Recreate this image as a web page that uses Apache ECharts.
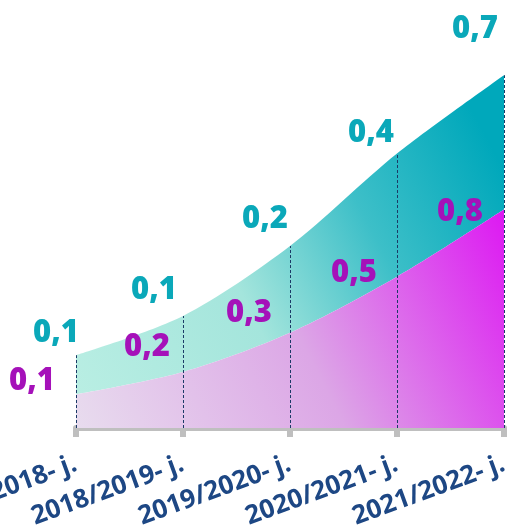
<!DOCTYPE html>
<html>
<head>
<meta charset="utf-8">
<script src="https://cdn.jsdelivr.net/npm/echarts@6/dist/echarts.min.js"></script>
<style>
html,body{margin:0;padding:0;background:#fff;}
#c{width:508px;height:531px;}
</style>
</head>
<body>
<div id="c"></div>
<script>
// Categories (school years)
const categories = ['2017/2018- j.', '2018/2019- j.', '2019/2020- j.', '2020/2021- j.', '2021/2022- j.'];
// Area heights (lower purple band, upper teal band stacked on it)
const purpleValues = [0.12, 0.20, 0.34, 0.54, 0.78];
const tealValues = [0.14, 0.20, 0.31, 0.44, 0.48];
// Values printed on the chart
const purpleShown = [0.1, 0.2, 0.3, 0.5, 0.8];
const tealShown = [0.1, 0.1, 0.2, 0.4, 0.7];

const purpleLabelOffsets = [[-44,-13], [-36,-25], [-41,-20], [-43,-4], [-44,3]];
const tealLabelOffsets = [[-20,-22], [-29,-26], [-25,-27], [-26,-20], [-29,-46]];

const fmt = v => v.toFixed(1).replace('.', ',');
const totals = purpleValues.map((v, i) => v + tealValues[i]);

const chart = echarts.init(document.getElementById('c'), null, {renderer: 'canvas'});
const labelFont = {fontFamily: 'Open Sans', fontWeight: 800, fontSize: 31};

chart.setOption({
  animation: false,
  backgroundColor: '#ffffff',
  grid: {left: 76, right: 4, top: 36, bottom: 103, containLabel: false, outerBoundsMode: 'none'},
  xAxis: {
    type: 'category',
    boundaryGap: false,
    data: categories,
    axisLine: {lineStyle: {color: '#bfbfbf', width: 6}},
    axisTick: {show: true, length: 9, lineStyle: {color: '#bfbfbf', width: 6}},
    axisLabel: {
      rotate: 20, margin: 35, interval: 0, hideOverlap: false,
      color: '#1d4784', fontFamily: 'Open Sans', fontWeight: 'bold', fontSize: 26
    },
    splitLine: {show: false}
  },
  yAxis: {type: 'value', min: 0, max: 1.4, show: false},
  series: [
    {
      name: 'purple', type: 'line', stack: 'total',
      data: purpleValues.map((v, i) => ({value: v, label: {offset: purpleLabelOffsets[i]}})),
      smooth: 0.3,
      symbol: 'circle', symbolSize: 0.1, showSymbol: true,
      itemStyle: {color: 'rgba(0,0,0,0)'},
      lineStyle: {width: 0},
      areaStyle: {
        opacity: 1,
        color: new echarts.graphic.LinearGradient(0, 1, 1, 0, [
          {offset: 0, color: '#e8dcee'},
          {offset: 0.5, color: '#dca6e6'},
          {offset: 1, color: '#dd18f2'}
        ])
      },
      label: Object.assign({
        show: true, position: 'inside', color: '#a511b9',
        formatter: p => fmt(purpleShown[p.dataIndex])
      }, labelFont),
      markLine: {
        silent: true, symbol: ['none', 'none'], z: 10,
        label: {show: false},
        lineStyle: {color: '#1b3a66', type: [3, 2], width: 1, opacity: 1},
        emphasis: {disabled: true},
        data: categories.map((c, i) => [{coord: [c, 0]}, {coord: [c, totals[i]]}])
      },
      z: 2
    },
    {
      name: 'teal', type: 'line', stack: 'total',
      data: tealValues.map((v, i) => ({value: v, label: {offset: tealLabelOffsets[i]}})),
      smooth: 0.3,
      symbol: 'circle', symbolSize: 0.1, showSymbol: true,
      itemStyle: {color: 'rgba(0,0,0,0)'},
      lineStyle: {width: 0},
      areaStyle: {
        opacity: 1,
        color: new echarts.graphic.LinearGradient(0, 1, 1, 0.3, [
          {offset: 0, color: '#b9eee3'},
          {offset: 0.4, color: '#a4e5dc'},
          {offset: 0.7, color: '#3dbfc8'},
          {offset: 1, color: '#00a8bb'}
        ])
      },
      label: Object.assign({
        show: true, position: 'inside', color: '#0aa8b9',
        formatter: p => fmt(tealShown[p.dataIndex])
      }, labelFont),
      z: 1
    }
  ]
});
</script>
</body>
</html>
